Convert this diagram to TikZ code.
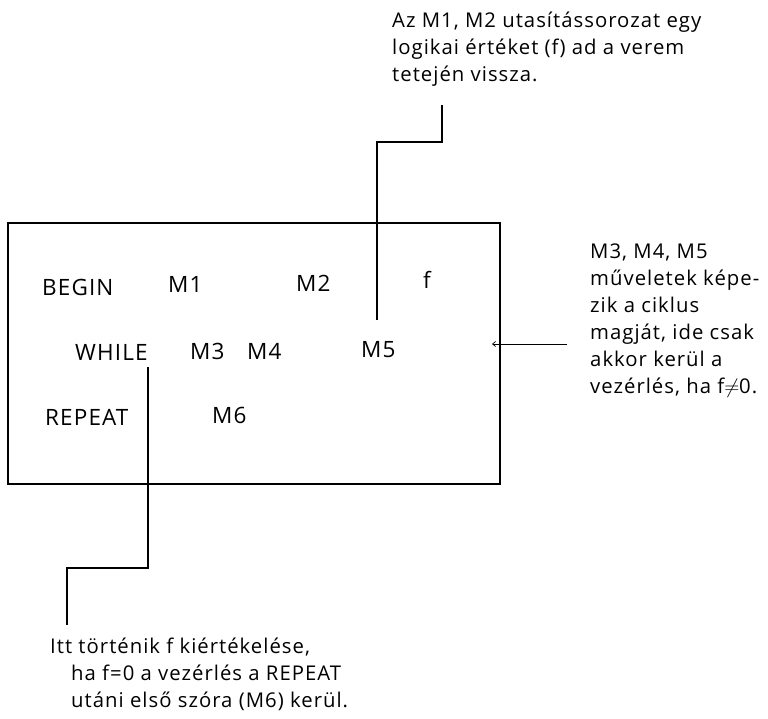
\documentclass[tikz,border=0pt]{standalone}
\usepackage{fontspec}
\setmainfont{Open Sans}[LetterSpace=5]
\usetikzlibrary{arrows.meta}
\tikzset{
  boxtext/.style={anchor=base west, inner sep=0pt, font=\fontsize{22.5}{26}\selectfont},
  notetext/.style={anchor=base west, inner sep=0pt, align=left, font=\fontsize{20.3}{27}\selectfont},
  frame/.style={line width=1.5pt},
  bracket/.style={line width=1.6pt},
  pointer/.style={line width=0.7pt, -{Straight Barb[length=3pt,width=5pt]}}
}
\begin{document}
\begin{tikzpicture}[x=1pt,y=-1pt]
\useasboundingbox (0,0) rectangle (768,719);
% frame
\draw[frame] (8,223) rectangle (500,484);
% box contents
\node[boxtext] (begin) at (42,295) {BEGIN};
\node[boxtext] (m1) at (168,293) {M1};
\node[boxtext] (m2) at (296,291) {M2};
\node[boxtext] (f) at (423,289) {f};
\node[boxtext] (while) at (75,360) {WHILE};
\node[boxtext] (m3) at (190,359) {M3};
\node[boxtext] (m4) at (247,359) {M4};
\node[boxtext] (m5) at (361,357) {M5};
\node[boxtext] (repeat) at (45,425) {REPEAT};
\node[boxtext] (m6) at (212,423) {M6};
% annotations (anchored at the baseline of their last line)
\node[notetext] (topnote) at (392,82) {Az M1, M2 utasítássorozat egy\\logikai értéket (f) ad a verem\\tetején vissza.};
\node[notetext] (rightnote) at (590,393) {M3, M4, M5\\műveletek képe-\\zik a ciklus\\magját, ide csak\\akkor kerül a\\vezérlés, ha f$\neq$0.};
\node[notetext] (botnote) at (50,707) {Itt történik f kiértékelése,\\\hspace*{21pt}ha f=0 a vezérlés a REPEAT\\\hspace*{21pt}utáni első szóra (M6) kerül.};
% connectors
\coordinate (tA) at (442,105);
\coordinate (tB) at (377,142);
\coordinate (tC) at (377,320);
\draw[bracket] (tA) |- (tB) -- (tC);
\coordinate (wA) at (148,367);
\coordinate (wB) at (67,568);
\coordinate (wC) at (67,625);
\draw[bracket] (wA) |- (wB) -- (wC);
\coordinate (aS) at (567,344);
\coordinate (aE) at (492,344);
\draw[pointer] (aS) -- (aE);
\end{tikzpicture}
\end{document}
